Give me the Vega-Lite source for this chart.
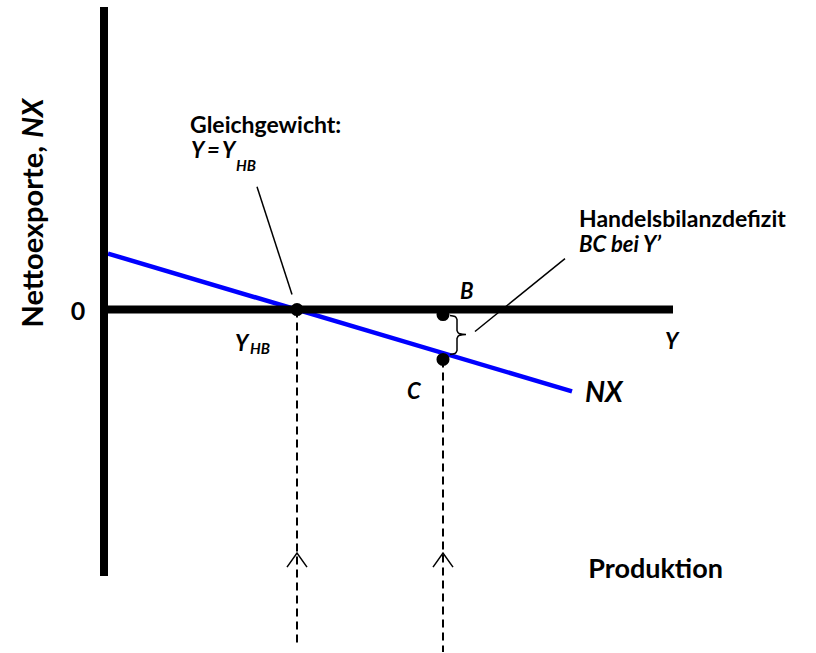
{
  "$schema": "https://vega.github.io/schema/vega-lite/v6.json",
  "width": 816,
  "height": 653,
  "autosize": {"type": "fit", "contains": "padding"},
  "padding": 0,
  "background": "white",
  "config": {"view": {"stroke": null}, "font": "Lato"},
  "datasets": {
    "axes": [
      {"x": 104, "y": 303, "x2": 104, "y2": -267},
      {"x": 100, "y": 0, "x2": 673, "y2": 0}
    ],
    "nx": [{"x": 108, "y": 56}, {"x": 572, "y": -82}],
    "drops": [
      {"x": 297, "y": 0, "y2": -338},
      {"x": 443, "y": -50, "y2": -343}
    ],
    "arrows": [
      {"id": 1, "x": 287, "y": -258}, {"id": 1, "x": 297, "y": -244}, {"id": 1, "x": 307, "y": -258},
      {"id": 2, "x": 433, "y": -258}, {"id": 2, "x": 443, "y": -244}, {"id": 2, "x": 453, "y": -258}
    ],
    "leaders": [
      {"id": 1, "x": 257, "y": 123}, {"id": 1, "x": 292, "y": 15},
      {"id": 2, "x": 565, "y": 51}, {"id": 2, "x": 475, "y": -22}
    ],
    "brace": [
      {"o": 1, "x": 450, "y": -6}, {"o": 2, "x": 455, "y": -7}, {"o": 3, "x": 457, "y": -10},
      {"o": 4, "x": 457, "y": -21}, {"o": 5, "x": 459, "y": -24}, {"o": 6, "x": 466, "y": -25},
      {"o": 7, "x": 459, "y": -26}, {"o": 8, "x": 457, "y": -29}, {"o": 9, "x": 457, "y": -41},
      {"o": 10, "x": 455, "y": -44}, {"o": 11, "x": 450, "y": -45}
    ],
    "points": [{"x": 297, "y": 0}, {"x": 443, "y": -5}, {"x": 443, "y": -50}],
    "boldText": [
      {"label": "Gleichgewicht:", "x": 190, "y": 177},
      {"label": "Handelsbilanzdefizit", "x": 579, "y": 83}
    ],
    "italicText": [
      {"label": "Y", "x": 191, "y": 152},
      {"label": "=", "x": 207, "y": 152},
      {"label": "Y", "x": 222, "y": 152},
      {"label": "BC bei Y’", "x": 579, "y": 58},
      {"label": "B", "x": 460, "y": 11},
      {"label": "C", "x": 407, "y": -90},
      {"label": "Y", "x": 665, "y": -40},
      {"label": "Y", "x": 235, "y": -42}
    ],
    "subText": [
      {"label": "HB", "x": 236, "y": 139},
      {"label": "HB", "x": 250, "y": -45}
    ],
    "bigText": [{"label": "NX", "x": 585, "y": -93}],
    "zeroText": [{"label": "0", "x": 78, "y": -10}],
    "prodText": [{"label": "Produktion", "x": 723, "y": -269}],
    "yTitle": [{"label": "Nettoexporte,", "x": 43, "y": -18}],
    "yTitleNX": [{"label": "NX", "x": 43, "y": 172}]
  },
  "layer": [
    {
      "data": {"name": "drops"},
      "mark": {"type": "rule", "color": "black", "strokeWidth": 2, "strokeDash": [8, 5]},
      "encoding": {
        "x": {"field": "x", "type": "quantitative", "scale": {"domain": [0, 816], "nice": false, "zero": false}, "axis": null},
        "y": {"field": "y", "type": "quantitative", "scale": {"domain": [-343, 310], "nice": false, "zero": false}, "axis": null},
        "y2": {"field": "y2"}
      }
    },
    {
      "data": {"name": "arrows"},
      "mark": {"type": "line", "color": "black", "strokeWidth": 1.5},
      "encoding": {
        "x": {"field": "x", "type": "quantitative", "scale": {"domain": [0, 816], "nice": false, "zero": false}, "axis": null},
        "y": {"field": "y", "type": "quantitative", "scale": {"domain": [-343, 310], "nice": false, "zero": false}, "axis": null},
        "detail": {"field": "id"}
      }
    },
    {
      "data": {"name": "nx"},
      "mark": {"type": "line", "color": "#0000ff", "strokeWidth": 4.5},
      "encoding": {
        "x": {"field": "x", "type": "quantitative", "scale": {"domain": [0, 816], "nice": false, "zero": false}, "axis": null},
        "y": {"field": "y", "type": "quantitative", "scale": {"domain": [-343, 310], "nice": false, "zero": false}, "axis": null}
      }
    },
    {
      "data": {"name": "axes"},
      "mark": {"type": "rule", "color": "black", "strokeWidth": 8},
      "encoding": {
        "x": {"field": "x", "type": "quantitative", "scale": {"domain": [0, 816], "nice": false, "zero": false}, "axis": null},
        "y": {"field": "y", "type": "quantitative", "scale": {"domain": [-343, 310], "nice": false, "zero": false}, "axis": null},
        "x2": {"field": "x2"},
        "y2": {"field": "y2"}
      }
    },
    {
      "data": {"name": "leaders"},
      "mark": {"type": "line", "color": "black", "strokeWidth": 1.5},
      "encoding": {
        "x": {"field": "x", "type": "quantitative", "scale": {"domain": [0, 816], "nice": false, "zero": false}, "axis": null},
        "y": {"field": "y", "type": "quantitative", "scale": {"domain": [-343, 310], "nice": false, "zero": false}, "axis": null},
        "detail": {"field": "id"}
      }
    },
    {
      "data": {"name": "brace"},
      "mark": {"type": "line", "color": "black", "strokeWidth": 1.5, "interpolate": "monotone"},
      "encoding": {
        "x": {"field": "x", "type": "quantitative", "scale": {"domain": [0, 816], "nice": false, "zero": false}, "axis": null},
        "y": {"field": "y", "type": "quantitative", "scale": {"domain": [-343, 310], "nice": false, "zero": false}, "axis": null},
        "order": {"field": "o"}
      }
    },
    {
      "data": {"name": "points"},
      "mark": {"type": "point", "filled": true, "color": "black", "size": 170, "opacity": 1, "shape": "circle"},
      "encoding": {
        "x": {"field": "x", "type": "quantitative", "scale": {"domain": [0, 816], "nice": false, "zero": false}, "axis": null},
        "y": {"field": "y", "type": "quantitative", "scale": {"domain": [-343, 310], "nice": false, "zero": false}, "axis": null}
      }
    },
    {
      "data": {"name": "boldText"},
      "mark": {"type": "text", "fontWeight": "bold", "fontSize": 23, "align": "left", "baseline": "alphabetic", "color": "black"},
      "encoding": {
        "x": {"field": "x", "type": "quantitative", "scale": {"domain": [0, 816], "nice": false, "zero": false}, "axis": null},
        "y": {"field": "y", "type": "quantitative", "scale": {"domain": [-343, 310], "nice": false, "zero": false}, "axis": null},
        "text": {"field": "label"}
      }
    },
    {
      "data": {"name": "italicText"},
      "mark": {"type": "text", "fontWeight": "bold", "fontStyle": "italic", "fontSize": 22, "align": "left", "baseline": "alphabetic", "color": "black"},
      "encoding": {
        "x": {"field": "x", "type": "quantitative", "scale": {"domain": [0, 816], "nice": false, "zero": false}, "axis": null},
        "y": {"field": "y", "type": "quantitative", "scale": {"domain": [-343, 310], "nice": false, "zero": false}, "axis": null},
        "text": {"field": "label"}
      }
    },
    {
      "data": {"name": "subText"},
      "mark": {"type": "text", "fontWeight": "bold", "fontStyle": "italic", "fontSize": 15, "align": "left", "baseline": "alphabetic", "color": "black"},
      "encoding": {
        "x": {"field": "x", "type": "quantitative", "scale": {"domain": [0, 816], "nice": false, "zero": false}, "axis": null},
        "y": {"field": "y", "type": "quantitative", "scale": {"domain": [-343, 310], "nice": false, "zero": false}, "axis": null},
        "text": {"field": "label"}
      }
    },
    {
      "data": {"name": "bigText"},
      "mark": {"type": "text", "fontWeight": "bold", "fontStyle": "italic", "fontSize": 28, "align": "left", "baseline": "alphabetic", "color": "black"},
      "encoding": {
        "x": {"field": "x", "type": "quantitative", "scale": {"domain": [0, 816], "nice": false, "zero": false}, "axis": null},
        "y": {"field": "y", "type": "quantitative", "scale": {"domain": [-343, 310], "nice": false, "zero": false}, "axis": null},
        "text": {"field": "label"}
      }
    },
    {
      "data": {"name": "zeroText"},
      "mark": {"type": "text", "fontWeight": "bold", "fontSize": 25, "align": "center", "baseline": "alphabetic", "color": "black"},
      "encoding": {
        "x": {"field": "x", "type": "quantitative", "scale": {"domain": [0, 816], "nice": false, "zero": false}, "axis": null},
        "y": {"field": "y", "type": "quantitative", "scale": {"domain": [-343, 310], "nice": false, "zero": false}, "axis": null},
        "text": {"field": "label"}
      }
    },
    {
      "data": {"name": "prodText"},
      "mark": {"type": "text", "fontWeight": "bold", "fontSize": 27, "align": "right", "baseline": "alphabetic", "color": "black"},
      "encoding": {
        "x": {"field": "x", "type": "quantitative", "scale": {"domain": [0, 816], "nice": false, "zero": false}, "axis": null},
        "y": {"field": "y", "type": "quantitative", "scale": {"domain": [-343, 310], "nice": false, "zero": false}, "axis": null},
        "text": {"field": "label"}
      }
    },
    {
      "data": {"name": "yTitle"},
      "mark": {"type": "text", "fontWeight": "bold", "fontSize": 29, "angle": 270, "align": "left", "baseline": "alphabetic", "color": "black"},
      "encoding": {
        "x": {"field": "x", "type": "quantitative", "scale": {"domain": [0, 816], "nice": false, "zero": false}, "axis": null},
        "y": {"field": "y", "type": "quantitative", "scale": {"domain": [-343, 310], "nice": false, "zero": false}, "axis": null},
        "text": {"field": "label"}
      }
    },
    {
      "data": {"name": "yTitleNX"},
      "mark": {"type": "text", "fontWeight": "bold", "fontStyle": "italic", "fontSize": 29, "angle": 270, "align": "left", "baseline": "alphabetic", "color": "black"},
      "encoding": {
        "x": {"field": "x", "type": "quantitative", "scale": {"domain": [0, 816], "nice": false, "zero": false}, "axis": null},
        "y": {"field": "y", "type": "quantitative", "scale": {"domain": [-343, 310], "nice": false, "zero": false}, "axis": null},
        "text": {"field": "label"}
      }
    }
  ]
}
